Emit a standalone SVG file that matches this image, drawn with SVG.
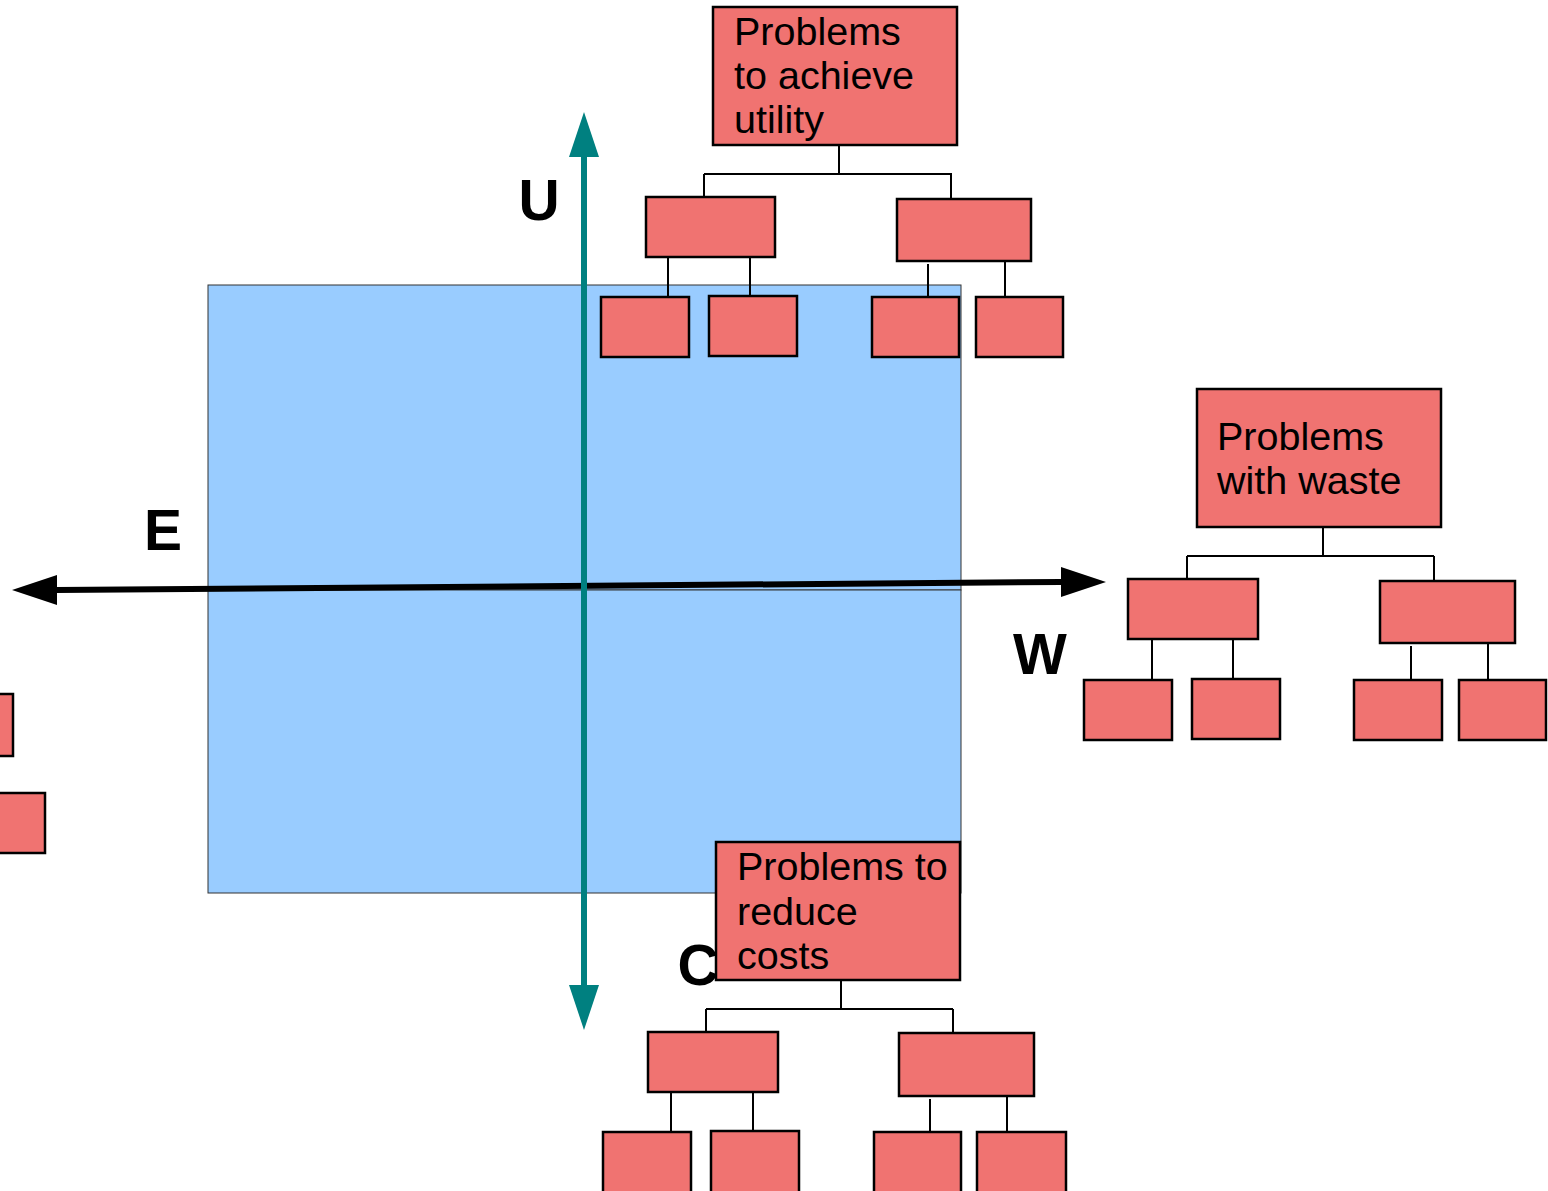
<svg xmlns="http://www.w3.org/2000/svg" width="1548" height="1191" viewBox="0 0 1548 1191">
<style>
.box{fill:#F07371;stroke:#000;stroke-width:2.5}
.ln{fill:none;stroke:#000;stroke-width:2}
.t{font-family:"Liberation Sans",Arial,sans-serif;font-size:39.5px;fill:#000}
.ax{font-family:"Liberation Sans",Arial,sans-serif;font-size:57px;font-weight:bold;fill:#000;text-anchor:middle}
.bg{fill:#99CCFF;stroke:#333;stroke-width:1}
</style>
<g id="background">
<rect class="bg" x="208" y="285" width="753" height="305"/>
<rect class="bg" x="208" y="590" width="753" height="303"/>
</g>
<g id="axis-labels">
<text class="ax" x="539" y="220">U</text>
<text class="ax" x="163" y="550">E</text>
<text class="ax" x="1040" y="674">W</text>
<text class="ax" x="698" y="985">C</text>
</g>
<g id="connectors">
<line x1="57" y1="590" x2="1061" y2="582" stroke="#000" stroke-width="6"/>
<path d="M12,590L57,575L57,605Z" fill="#000"/>
<path d="M1106,582L1061,567L1061,597Z" fill="#000"/>
<line x1="584" y1="150" x2="584" y2="992" stroke="#008080" stroke-width="6"/>
<path d="M584,112L569,157L599,157Z" fill="#008080"/>
<path d="M584,1030L569,985L599,985Z" fill="#008080"/>
<path class="ln" d="M839,145V173M704,174H951M704,174V197M951,173V199M668,257V296M750,257V296M928,264V297M1005,261V297"/>
<path class="ln" d="M1323,527V555M1187,556H1434M1187,556V579M1434,556V581M1152,639V679M1233,639V679M1411,646V680M1488,641V680"/>
<path class="ln" d="M841,980V1008M706,1009H953M706,1009V1032M953,1009V1033M671,1092V1132M753,1092V1131M930,1099V1132M1007,1094V1132"/>
</g>
<g id="top-root"><rect class="box" x="713" y="7" width="244" height="138"/>
<text class="t"><tspan x="734" y="45">Problems</tspan><tspan x="734" y="89">to achieve</tspan><tspan x="734" y="133">utility</tspan></text></g>
<g id="top-c1"><rect class="box" x="646" y="197" width="129" height="60"/></g>
<g id="top-c2"><rect class="box" x="897" y="199" width="134" height="62"/></g>
<g id="top-g1"><rect class="box" x="601" y="297" width="88" height="60"/></g>
<g id="top-g2"><rect class="box" x="709" y="296" width="88" height="60"/></g>
<g id="top-g3"><rect class="box" x="872" y="297" width="87" height="60"/></g>
<g id="top-g4"><rect class="box" x="976" y="297" width="87" height="60"/></g>
<g id="right-root"><rect class="box" x="1197" y="389" width="244" height="138"/>
<text class="t"><tspan x="1217" y="450">Problems</tspan><tspan x="1217" y="494">with waste</tspan></text></g>
<g id="right-c1"><rect class="box" x="1128" y="579" width="130" height="60"/></g>
<g id="right-c2"><rect class="box" x="1380" y="581" width="135" height="62"/></g>
<g id="right-g1"><rect class="box" x="1084" y="680" width="88" height="60"/></g>
<g id="right-g2"><rect class="box" x="1192" y="679" width="88" height="60"/></g>
<g id="right-g3"><rect class="box" x="1354" y="680" width="88" height="60"/></g>
<g id="right-g4"><rect class="box" x="1459" y="680" width="87" height="60"/></g>
<g id="bottom-root"><rect class="box" x="716" y="842" width="244" height="138"/>
<text class="t"><tspan x="737" y="880">Problems to</tspan><tspan x="737" y="925">reduce</tspan><tspan x="737" y="969">costs</tspan></text></g>
<g id="bottom-c1"><rect class="box" x="648" y="1032" width="130" height="60"/></g>
<g id="bottom-c2"><rect class="box" x="899" y="1033" width="135" height="63"/></g>
<g id="bottom-g1"><rect class="box" x="603" y="1132" width="88" height="70"/></g>
<g id="bottom-g2"><rect class="box" x="711" y="1131" width="88" height="70"/></g>
<g id="bottom-g3"><rect class="box" x="874" y="1132" width="87" height="70"/></g>
<g id="bottom-g4"><rect class="box" x="977" y="1132" width="89" height="70"/></g>
<g id="left-g1"><rect class="box" x="-80" y="694" width="93" height="62"/></g>
<g id="left-g2"><rect class="box" x="-50" y="793" width="95" height="60"/></g>
</svg>
